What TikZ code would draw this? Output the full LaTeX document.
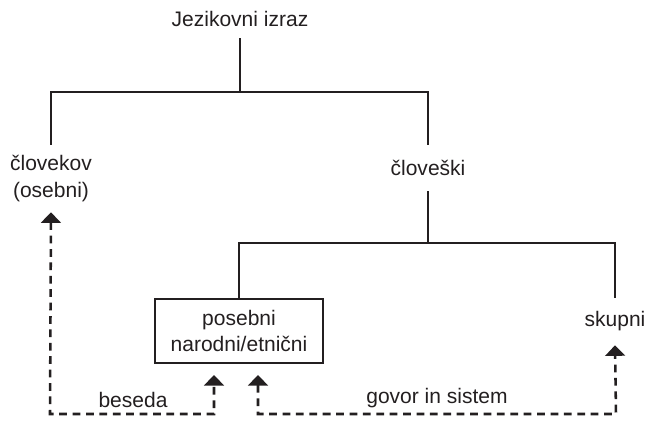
\documentclass[tikz,border=0pt]{standalone}
\usepackage{fontspec}
\setmainfont{Liberation Sans}
\usetikzlibrary{arrows.meta}
\definecolor{ink}{HTML}{231F20}

\begin{document}
\begin{tikzpicture}[x=0.709pt, y=-0.709pt,
    every node/.style={text=ink, font=\fontsize{14.9}{18.5}\selectfont, align=center},
    tline/.style={draw=ink, line width=1.8pt},
    dline/.style={draw=ink, line width=1.8pt, dash pattern=on 5.5pt off 4pt,
        {Triangle[width=14pt, length=7.5pt]}-{Triangle[width=14pt, length=7.5pt]}}]

    \useasboundingbox (0,0) rectangle (646,422);

% Labels
    % Top
    \node[minimum height=27pt] (root) at (240,19) {Jezikovni izraz};
    % Second level
    \node[minimum height=47.5pt] (clovekov) at (51,178.5) {človekov\\(osebni)};
    \node[minimum height=32.6pt] (cloveski) at (428,168) {človeški};
    % Third level
    \node[draw=ink, line width=1.8pt, minimum width=119pt, minimum height=45.4pt]
        (posebni) at (239,331) {posebni\\narodni/etnični};
    \node[minimum height=33.3pt] (skupni) at (615,321.5) {skupni};
    % Bottom texts
    \node (beseda) at (133,400) {beseda};
    \node (govor) at (437,398) {govor in sistem};

% Tree lines
    \coordinate (topbar) at (240,92);
    \coordinate (midbar) at (428,243);
    \draw[tline] (root.south) -- (topbar);
    \draw[tline] (clovekov.north) -- (clovekov.north |- topbar)
        -- (cloveski.north |- topbar) -- (cloveski.north);
    \draw[tline] (cloveski.south) -- (midbar);
    \draw[tline] (posebni.north) -- (posebni.north |- midbar)
        -- (skupni.north |- midbar) -- (skupni.north);

% Dashed arrows
    \coordinate (in1) at (214,375);
    \coordinate (in2) at (258,375);
    \coordinate (bl) at (50,414);
    \coordinate (br) at (616,414);
    \draw[dline] (clovekov.south) -- (bl) -| (in1);
    \draw[dline] (in2) |- (br) -- (skupni.south);

\end{tikzpicture}
\end{document}
